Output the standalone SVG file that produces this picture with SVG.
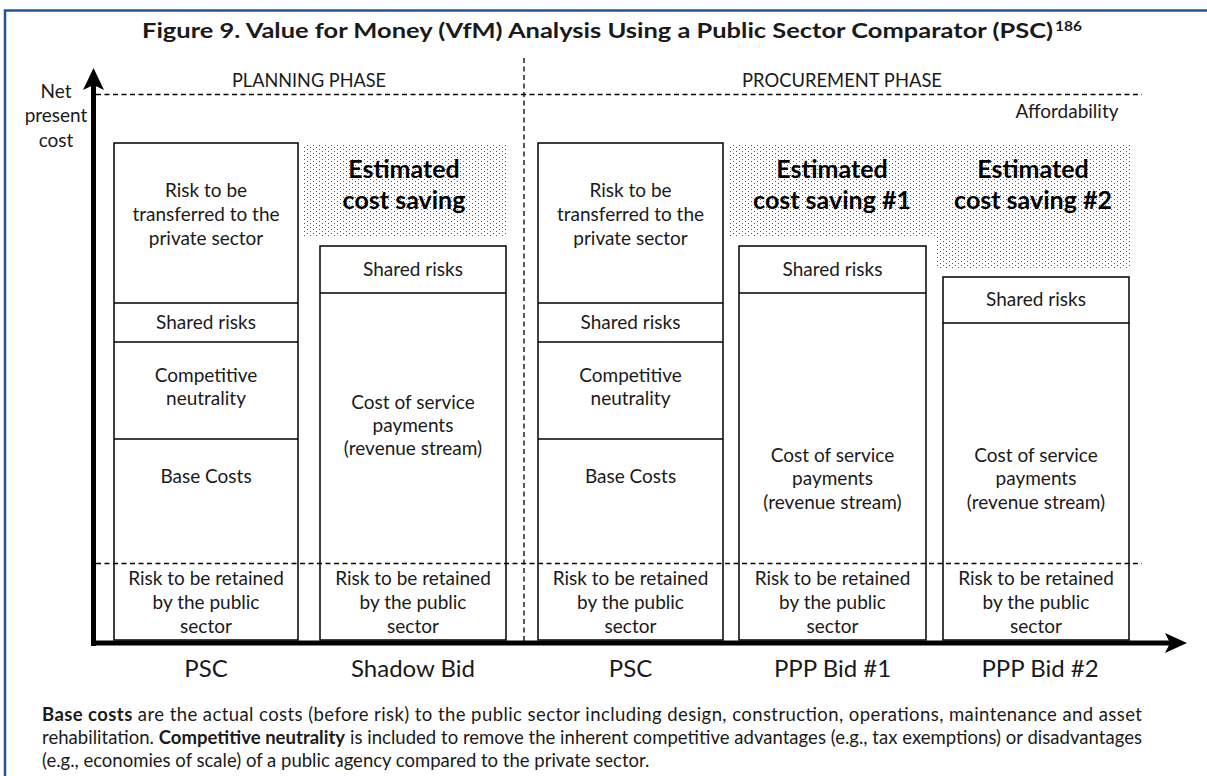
<svg xmlns="http://www.w3.org/2000/svg" width="1207" height="776" viewBox="0 0 1207 776">
<defs>
<style>
.box{fill:none;stroke:#000;stroke-width:1.5}
.dv{stroke:#000;stroke-width:1.3}
.dash{fill:none;stroke:#000;stroke-width:1.3;stroke-dasharray:5 3.5}
.t{font-family:Lato,"Liberation Sans",sans-serif;font-size:19px;fill:#1a1a1a;text-anchor:middle}
.hd{font-size:19px}
.b{font-weight:bold;font-size:25px;fill:#000}
.lbl{font-size:24px}
.p{font-size:18.5px;text-anchor:start}
.dots{fill:url(#dotpat)}
</style>
<pattern id="dotpat" width="6" height="4" patternUnits="userSpaceOnUse">
<rect x="1" y="1" width="1" height="1" fill="#555"/>
<rect x="4" y="3" width="1" height="1" fill="#555"/>
</pattern>
</defs>
<rect width="1207" height="776" fill="#fff"/>
<polyline points="5,776 5,10.5 1207,10.5" fill="none" stroke="#215596" stroke-width="2.5"/>

<g id="title">
<text class="t" x="142" y="38" style="text-anchor:start;font-weight:bold;font-size:21px" textLength="911" lengthAdjust="spacingAndGlyphs">Figure 9. Value for Money (VfM) Analysis Using a Public Sector Comparator (PSC)</text>
<text class="t" x="1055" y="31" style="text-anchor:start;font-weight:bold;font-size:13px" textLength="27" lengthAdjust="spacingAndGlyphs">186</text>
</g>

<g id="savings">
<rect class="dots" x="302" y="145" width="204" height="92"/>
<rect class="dots" x="728" y="145" width="207" height="92"/>
<rect class="dots" x="935" y="145" width="196" height="123"/>
</g>

<g id="connectors">
<line class="dash" x1="96" y1="94.5" x2="1142" y2="94.5"/>
<line class="dash" x1="96" y1="563.5" x2="1142" y2="563.5"/>
<line class="dash" x1="524" y1="58" x2="524" y2="641"/>
<line x1="93.5" y1="84" x2="93.5" y2="646" stroke="#000" stroke-width="5"/>
<line x1="91" y1="643" x2="1172" y2="643" stroke="#000" stroke-width="5"/>
<polygon points="93.5,68 104,90 93.5,85 83,90" fill="#000"/>
<polygon points="1187,643 1165,653 1170,643 1165,633" fill="#000"/>
</g>

<g id="axis-labels">
<text class="t" x="56" y="98">Net</text>
<text class="t" x="56" y="122">present</text>
<text class="t" x="56" y="147">cost</text>
<text class="t hd" x="309" y="87" textLength="154" lengthAdjust="spacingAndGlyphs">PLANNING PHASE</text>
<text class="t hd" x="842" y="87" textLength="200" lengthAdjust="spacingAndGlyphs">PROCUREMENT PHASE</text>
<text class="t" x="1067" y="118">Affordability</text>
</g>

<g id="psc1">
<rect class="box" x="114" y="143" width="184" height="497"/>
<line class="dv" x1="114" y1="303" x2="298" y2="303"/>
<line class="dv" x1="114" y1="342" x2="298" y2="342"/>
<line class="dv" x1="114" y1="439" x2="298" y2="439"/>
<text class="t" x="206" y="197">Risk to be</text>
<text class="t" x="206" y="221">transferred to the</text>
<text class="t" x="206" y="245">private sector</text>
<text class="t" x="206" y="329">Shared risks</text>
<text class="t" x="206" y="382">Competitive</text>
<text class="t" x="206" y="405">neutrality</text>
<text class="t" x="206" y="483">Base Costs</text>
<text class="t" x="206" y="585">Risk to be retained</text>
<text class="t" x="206" y="609">by the public</text>
<text class="t" x="206" y="633">sector</text>
<text class="t lbl" x="206" y="677">PSC</text>
</g>

<g id="shadow-bid">
<rect class="box" x="320" y="246" width="186" height="394"/>
<line class="dv" x1="320" y1="293" x2="506" y2="293"/>
<text class="t b" x="404" y="178">Estimated</text>
<text class="t b" x="404" y="209">cost saving</text>
<text class="t" x="413" y="276">Shared risks</text>
<text class="t" x="413" y="409">Cost of service</text>
<text class="t" x="413" y="432">payments</text>
<text class="t" x="413" y="455">(revenue stream)</text>
<text class="t" x="413" y="585">Risk to be retained</text>
<text class="t" x="413" y="609">by the public</text>
<text class="t" x="413" y="633">sector</text>
<text class="t lbl" x="413" y="677">Shadow Bid</text>
</g>

<g id="psc2">
<rect class="box" x="538" y="143" width="185" height="497"/>
<line class="dv" x1="538" y1="303" x2="723" y2="303"/>
<line class="dv" x1="538" y1="342" x2="723" y2="342"/>
<line class="dv" x1="538" y1="439" x2="723" y2="439"/>
<text class="t" x="630.5" y="197">Risk to be</text>
<text class="t" x="630.5" y="221">transferred to the</text>
<text class="t" x="630.5" y="245">private sector</text>
<text class="t" x="630.5" y="329">Shared risks</text>
<text class="t" x="630.5" y="382">Competitive</text>
<text class="t" x="630.5" y="405">neutrality</text>
<text class="t" x="630.5" y="483">Base Costs</text>
<text class="t" x="630.5" y="585">Risk to be retained</text>
<text class="t" x="630.5" y="609">by the public</text>
<text class="t" x="630.5" y="633">sector</text>
<text class="t lbl" x="630.5" y="677">PSC</text>
</g>

<g id="ppp-bid-1">
<rect class="box" x="739" y="246" width="187" height="394"/>
<line class="dv" x1="739" y1="293" x2="926" y2="293"/>
<text class="t b" x="832" y="178">Estimated</text>
<text class="t b" x="832" y="209">cost saving #1</text>
<text class="t" x="832.5" y="276">Shared risks</text>
<text class="t" x="832.5" y="462">Cost of service</text>
<text class="t" x="832.5" y="485">payments</text>
<text class="t" x="832.5" y="509">(revenue stream)</text>
<text class="t" x="832.5" y="585">Risk to be retained</text>
<text class="t" x="832.5" y="609">by the public</text>
<text class="t" x="832.5" y="633">sector</text>
<text class="t lbl" x="832.5" y="677">PPP Bid #1</text>
</g>

<g id="ppp-bid-2">
<rect class="box" x="943" y="277" width="186" height="363"/>
<line class="dv" x1="943" y1="323" x2="1129" y2="323"/>
<text class="t b" x="1033" y="178">Estimated</text>
<text class="t b" x="1033" y="209">cost saving #2</text>
<text class="t" x="1036" y="306">Shared risks</text>
<text class="t" x="1036" y="462">Cost of service</text>
<text class="t" x="1036" y="485">payments</text>
<text class="t" x="1036" y="509">(revenue stream)</text>
<text class="t" x="1036" y="585">Risk to be retained</text>
<text class="t" x="1036" y="609">by the public</text>
<text class="t" x="1036" y="633">sector</text>
<text class="t lbl" x="1040" y="677">PPP Bid #2</text>
</g>

<g id="note">
<text class="t p" x="42" y="721" textLength="1100" lengthAdjust="spacing"><tspan font-weight="bold">Base costs</tspan> are the actual costs (before risk) to the public sector including design, construction, operations, maintenance and asset</text>
<text class="t p" x="42" y="744" textLength="1100" lengthAdjust="spacing">rehabilitation. <tspan font-weight="bold">Competitive neutrality</tspan> is included to remove the inherent competitive advantages (e.g., tax exemptions) or disadvantages</text>
<text class="t p" x="42" y="767">(e.g., economies of scale) of a public agency compared to the private sector.</text>
</g>
</svg>
